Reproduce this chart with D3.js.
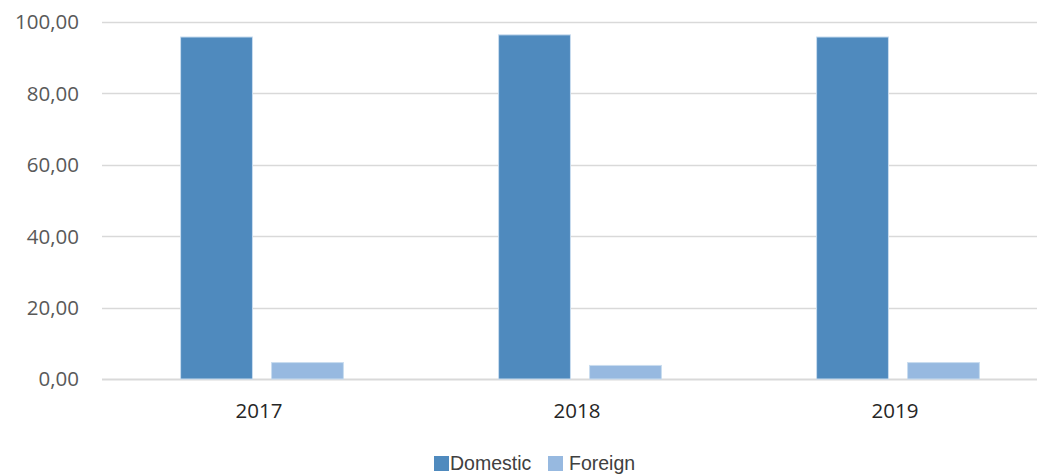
<!DOCTYPE html>
<html>
<head>
<meta charset="utf-8">
<script src="https://cdn.jsdelivr.net/npm/d3@7"></script>
<style>
    html, body { margin: 0; padding: 0; background: #fff; }
    svg { display: block; }
</style>
</head>
<body>
<div id="chart"></div>
<script>
// data
var years = ['2017', '2018', '2019'];
var seriesNames = ['Domestic', 'Foreign'];
var domestic = [95.8, 96.4, 95.8];
var foreign = [4.6, 3.8, 4.6];
var yTicks = [0, 20, 40, 60, 80, 100];

var colors = ['#4f8abe', '#97b9e0'];
var width = 1038, height = 475;

var svg = d3.select('#chart').append('svg')
    .attr('width', width)
    .attr('height', height);

// scales
var x0 = d3.scaleBand().domain(years).range([103, 1057]).padding(0);
var x1 = d3.scaleBand().domain(seriesNames)
    .range([x0.bandwidth() * 0.244, x0.bandwidth() * 0.756])
    .paddingInner(0.21).paddingOuter(0);
var y = d3.scaleLinear().domain([0, 100]).range([379, 22]);

// gridlines
svg.append('g').selectAll('line')
    .data(yTicks)
    .enter()
    .append('line')
    .attr('x1', 102)
    .attr('x2', 1037)
    .attr('y1', function(d) { return Math.round(y(d)) + 0.5; })
    .attr('y2', function(d) { return Math.round(y(d)) + 0.5; })
    .attr('stroke', '#d9d9d9')
    .attr('stroke-width', function(d) { return d === 0 ? 2 : 1.5; });

// y tick labels
svg.append('g').selectAll('text')
    .data(yTicks)
    .enter()
    .append('text')
    .attr('x', 79)
    .attr('y', function(d) { return y(d); })
    .attr('dy', '0.36em')
    .attr('text-anchor', 'end')
    .attr('font-family', 'Open Sans, sans-serif')
    .attr('font-size', '20.5px')
    .attr('fill', '#595959')
    .text(function(d) { return d3.format('.2f')(d).replace('.', ','); });

// bars
var groups = svg.append('g').selectAll('g')
    .data(years)
    .enter()
    .append('g')
    .attr('transform', function(d) { return 'translate(' + x0(d) + ',0)'; });

groups.selectAll('rect')
    .data(function(d, i) {
        return [{ key: 'Domestic', value: domestic[i] }, { key: 'Foreign', value: foreign[i] }];
    })
    .enter()
    .append('rect')
    .attr('x', function(d) { return x1(d.key); })
    .attr('width', x1.bandwidth())
    .attr('y', function(d) { return y(d.value); })
    .attr('height', function(d) { return y(0) - y(d.value); })
    .attr('fill', function(d, i) { return colors[i]; })
    .attr('stroke', '#c9dcef')
    .attr('stroke-width', 1);

// x labels
svg.append('g').selectAll('text')
    .data(years)
    .enter()
    .append('text')
    .attr('x', function(d) { return x0(d) + x0.bandwidth() / 2 - 3; })
    .attr('y', 418)
    .attr('text-anchor', 'middle')
    .attr('font-family', 'Open Sans, sans-serif')
    .attr('font-size', '20.5px')
    .attr('fill', '#262626')
    .text(function(d) { return d; });

// legend
var legendX = [434, 548];
var legend = svg.append('g').selectAll('g')
    .data(seriesNames)
    .enter()
    .append('g')
    .attr('transform', function(d, i) { return 'translate(' + legendX[i] + ',456)'; });
legend.append('rect')
    .attr('width', 15)
    .attr('height', 15)
    .attr('fill', function(d, i) { return colors[i]; });
legend.append('text')
    .attr('x', function(d, i) { return i === 0 ? 16 : 21; })
    .attr('y', 14)
    .attr('font-family', 'Liberation Sans, Arial, sans-serif')
    .attr('font-size', '19.5px')
    .attr('fill', '#404040')
    .text(function(d) { return d; });
</script>
</body>
</html>
